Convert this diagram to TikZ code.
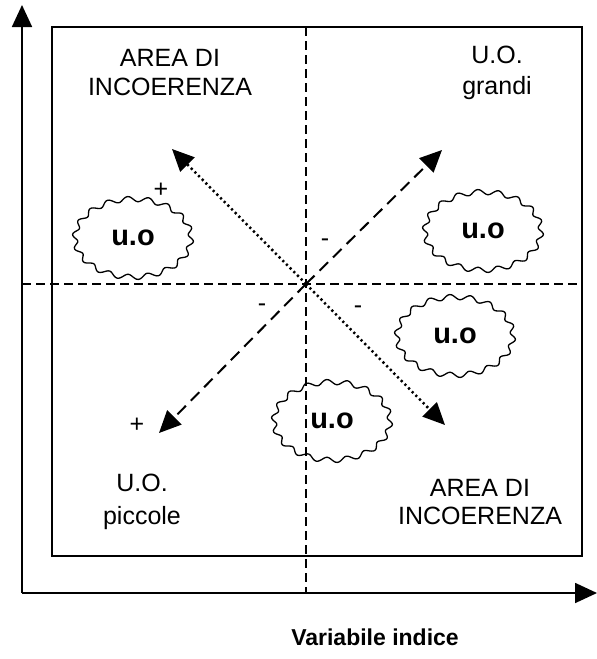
\documentclass[tikz,border=0pt]{standalone}
\usepackage{fontspec}
\setmainfont{Liberation Sans}
\usetikzlibrary{arrows.meta}
% nuvola ondulata con testo
\newcommand{\nuvola}[3]{%
  \node [uo] (#1) at (#2,#3) {u.o};
  \draw [line width=1.3pt, shift={(#2,#3)}, domain=0:360, samples=217, smooth]
    plot ({(58+2.6*sin(18*\x))*cos(\x)}, {(39+2.6*sin(18*\x))*sin(\x)});}

\begin{document}
\begin{tikzpicture}[x=1pt,y=-1pt]
\tikzset{lab/.style={font=\fontsize{25}{28}\selectfont},
  uo/.style={inner sep=0pt, font=\fontsize{29}{30}\selectfont\bfseries},
  tip/.style={-{Triangle[length=22pt,width=20pt]}},
  tratt/.style={line width=2pt, dash pattern=on 12pt off 7pt},
  punt/.style={line width=2.5pt, dash pattern=on 2.2pt off 3pt}}
\useasboundingbox (0,0) rectangle (597,659);
% assi
\coordinate (O) at (22,593);
\coordinate (ytop) at (22,5);
\coordinate (xend) at (597,593);
\draw [line width=1.8pt, tip] (O) -- (ytop);
\draw [line width=1.8pt, tip] (O) -- (xend);
\draw [line width=1.3pt] (52,27) rectangle (582,556);
% quadranti
\coordinate (c) at (306,284);
\coordinate (vtop) at (306,27);
\coordinate (vbot) at (306,593);
\coordinate (hsx) at (22,284);
\coordinate (hdx) at (582,284);
\draw [line width=1.5pt, dash pattern=on 9pt off 5pt] (vtop) -- (vbot);
\draw [line width=1.5pt, dash pattern=on 9pt off 5pt] (hsx) -- (hdx);
% frecce
\coordinate (ur) at (442,150);
\coordinate (ll) at (159,433);
\coordinate (ul) at (172,149);
\coordinate (lr) at (445,425);
\draw [tratt, tip] (c) -- (ur);
\draw [tratt, tip] (c) -- (ll);
\draw [punt, tip] (c) -- (ul);
\draw [punt, tip] (c) -- (lr);
% segni
\node [lab] (piu1) at (161,190) {+};
\node [lab] (piu2) at (137,425) {+};
\node [lab] (meno1) at (325,243) {-};
\node [lab] (meno2) at (262,308) {-};
\node [lab] (meno3) at (358,310) {-};
% unita' operative
\nuvola{uo1}{133}{238}
\nuvola{uo2}{483}{231}
\nuvola{uo3}{455}{336}
\nuvola{uo4}{332}{421}
% etichette
\node [lab] (inc1a) at (170,58) {AREA DI};
\node [lab] (inc1b) at (170,87) {INCOERENZA};
\node [lab] (gra1) at (497,55) {U.O.};
\node [lab] (gra2) at (497,88) {grandi};
\node [lab] (pic1) at (142,483) {U.O.};
\node [lab] (pic2) at (142,518) {piccole};
\node [lab] (inc2a) at (480,488) {AREA DI};
\node [lab] (inc2b) at (480,516) {INCOERENZA};
\node [lab, font=\fontsize{23}{26}\selectfont\bfseries] (var) at (375,637) {Variabile indice};
\end{tikzpicture}
\end{document}
